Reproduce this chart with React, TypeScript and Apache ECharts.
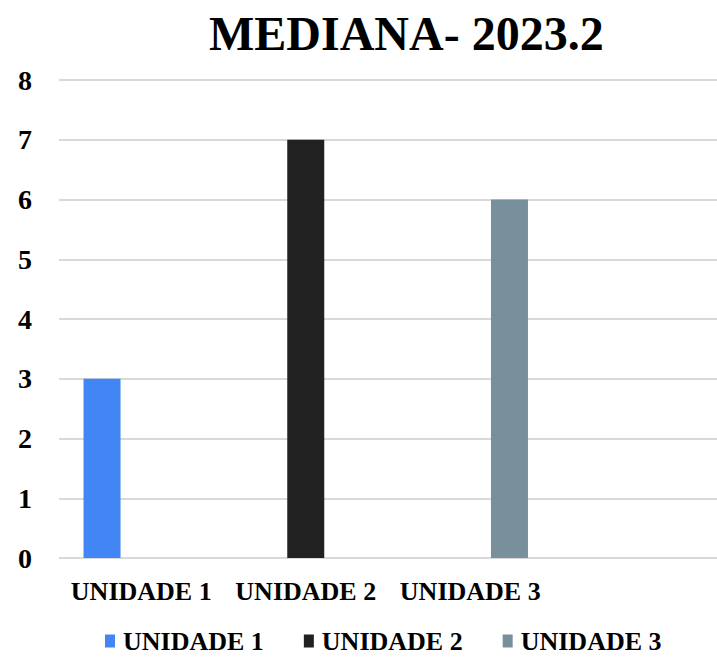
import React, { useEffect, useRef } from "react";
import * as echarts from "echarts";

const categories = ["UNIDADE 1", "UNIDADE 2", "UNIDADE 3", ""];
const seriesNames = ["UNIDADE 1", "UNIDADE 2", "UNIDADE 3"];
const medianValues = [3, 7, 6];
const seriesColors = ["#4285f4", "#212121", "#78909c"];
const yTicks = { min: 0, max: 8, interval: 1 };
const titleText = "MEDIANA- 2023.2";

const FONT = "Liberation Serif";

export default function App() {
  const ref = useRef<HTMLDivElement>(null);
  useEffect(() => {
    if (!ref.current) return;
    const chart = echarts.init(ref.current, null, { renderer: "svg" });
    const series = seriesNames.map((name, i) => ({
      name,
      type: "bar",
      barWidth: 37,
      barGap: "6%",
      itemStyle: { color: seriesColors[i] },
      data: categories.map((_, j) => (j === i ? medianValues[i] : "-")),
    }));
    chart.setOption({
      animation: false,
      backgroundColor: "#ffffff",
      title: {
        text: titleText,
        left: 204,
        top: 4,
        textStyle: { fontFamily: FONT, fontWeight: "bold", fontSize: 48, color: "#000" },
      },
      legend: {
        data: seriesNames,
        top: 623,
        left: 100,
        icon: "rect",
        itemWidth: 10,
        itemHeight: 13,
        itemGap: 40,
        textStyle: { fontFamily: FONT, fontWeight: "bold", fontSize: 26, color: "#000", padding: [0, 0, 0, 3] },
      },
      grid: { left: 59, right: 0, top: 80, bottom: 101, containLabel: false },
      xAxis: {
        type: "category",
        data: categories,
        axisLine: { show: false },
        axisTick: { show: false },
        axisLabel: {
          margin: 20,
          interval: 0,
          fontFamily: FONT,
          fontWeight: "bold",
          fontSize: 26,
          color: "#000",
        },
      },
      yAxis: {
        type: "value",
        min: yTicks.min,
        max: yTicks.max,
        interval: yTicks.interval,
        axisLine: { show: false },
        axisTick: { show: false },
        axisLabel: {
          margin: 27,
          fontFamily: FONT,
          fontWeight: "bold",
          fontSize: 28,
          color: "#000",
        },
        splitLine: { lineStyle: { color: "#d9d9d9", width: 2 } },
      },
      series,
    });
    return () => chart.dispose();
  }, []);
  return (
    <div
      ref={ref}
      style={{ position: "fixed", left: 0, top: 0, width: 717, height: 659 }}
    />
  );
}
